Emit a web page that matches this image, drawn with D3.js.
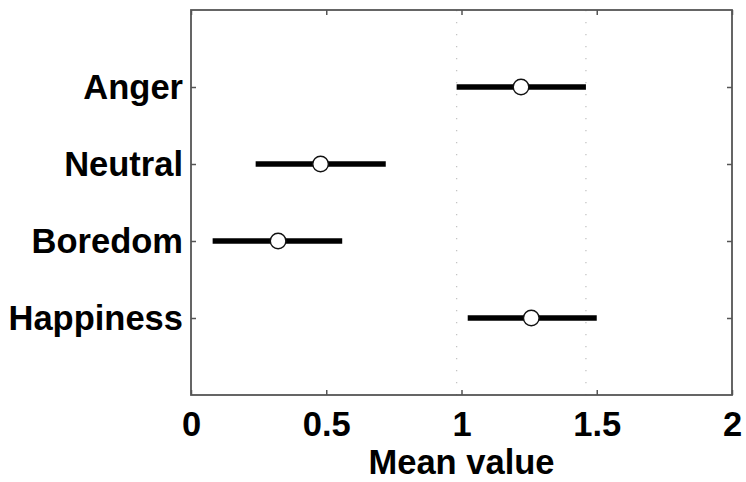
<!DOCTYPE html>
<html>
<head>
<meta charset="utf-8">
<script src="https://cdn.jsdelivr.net/npm/d3@7"></script>
<style>
  html, body { margin: 0; padding: 0; background: #fff; }
  svg { display: block; }
  text { font-family: "Liberation Sans", Arial, Helvetica, sans-serif; font-weight: bold; fill: #000; }
</style>
</head>
<body>
<svg id="chart" width="746" height="482"></svg>
<script>
// ---- data ----
const groups = ["Anger", "Neutral", "Boredom", "Happiness"];
const means  = [1.220, 0.479, 0.322, 1.258];
const lower  = [0.982, 0.239, 0.080, 1.023];
const upper  = [1.460, 0.720, 0.559, 1.500];
const xTicks = [0, 0.5, 1, 1.5, 2];
const xTickLabels = ["0", "0.5", "1", "1.5", "2"];
const selectedGroup = 0; // reference interval lines drawn at this group's bounds
const xLabel = "Mean value";

// ---- layout ----
const W = 746, H = 482;
const margin = { left: 191, right: 14, top: 10, bottom: 87 };
const iw = W - margin.left - margin.right;
const ih = H - margin.top - margin.bottom;
const frameColor = "#555";

const svg = d3.select("#chart");
const g = svg.append("g").attr("transform", `translate(${margin.left},${margin.top})`);

const x = d3.scaleLinear().domain([0, 2]).range([0, iw]);
const y = d3.scaleLinear().domain([0, groups.length + 1]).range([0, ih]);
const yPos = i => y(i + 1);

// dotted reference lines
g.selectAll("line.ref")
  .data([lower[selectedGroup], upper[selectedGroup]])
  .enter().append("line")
  .attr("class", "ref")
  .attr("x1", d => x(d)).attr("x2", d => x(d))
  .attr("y1", 0).attr("y2", ih)
  .attr("stroke", "#c4c4c4")
  .attr("stroke-width", 1.3)
  .attr("stroke-dasharray", "1.3 10.7");

// interval bars
const rows = groups.map((name, i) => ({ name, i, m: means[i], lo: lower[i], hi: upper[i] }));
g.selectAll("line.bar")
  .data(rows).enter().append("line")
  .attr("class", "bar")
  .attr("x1", d => x(d.lo)).attr("x2", d => x(d.hi))
  .attr("y1", d => yPos(d.i)).attr("y2", d => yPos(d.i))
  .attr("stroke", "#000")
  .attr("stroke-width", 5.5);

// mean markers
g.selectAll("circle.mean")
  .data(rows).enter().append("circle")
  .attr("class", "mean")
  .attr("cx", d => x(d.m)).attr("cy", d => yPos(d.i))
  .attr("r", 7.8)
  .attr("fill", "#fff")
  .attr("stroke", "#111")
  .attr("stroke-width", 1.4);

// axes
const fs = 34.5;
const xAxis = d3.axisBottom(x).tickValues(xTicks).tickFormat((d, i) => xTickLabels[i])
  .tickSizeInner(-5).tickSizeOuter(0).tickPadding(16.5);
const xg = g.append("g").attr("transform", `translate(0,${ih})`).call(xAxis);
xg.select(".domain").remove();
xg.selectAll("line").attr("stroke", frameColor).attr("stroke-width", 1.5);
xg.selectAll("text").style("font-size", fs + "px").style("font-family", '"Liberation Sans", Arial, sans-serif').style("font-weight", "bold").attr("fill", "#000");

const xTop = d3.axisTop(x).tickValues(xTicks).tickFormat("").tickSizeInner(-5).tickSizeOuter(0);
const xtg = g.append("g").call(xTop);
xtg.select(".domain").remove();
xtg.selectAll("line").attr("stroke", frameColor).attr("stroke-width", 1.5);

const yAxis = d3.axisLeft(y).tickValues(groups.map((_, i) => i + 1)).tickFormat(d => groups[d - 1])
  .tickSizeInner(-5).tickSizeOuter(0).tickPadding(8);
const yg = g.append("g").call(yAxis);
yg.select(".domain").remove();
yg.selectAll("line").attr("stroke", frameColor).attr("stroke-width", 1.5);
yg.selectAll("text").style("font-size", fs + "px").style("font-family", '"Liberation Sans", Arial, sans-serif').style("font-weight", "bold").attr("fill", "#000");

const yRight = d3.axisRight(y).tickValues(groups.map((_, i) => i + 1)).tickFormat("").tickSizeInner(-5).tickSizeOuter(0);
const yrg = g.append("g").attr("transform", `translate(${iw},0)`).call(yRight);
yrg.select(".domain").remove();
yrg.selectAll("line").attr("stroke", frameColor).attr("stroke-width", 1.5);

// frame
g.append("rect")
  .attr("x", 0).attr("y", 0).attr("width", iw).attr("height", ih)
  .attr("fill", "none").attr("stroke", frameColor).attr("stroke-width", 1.8);

// x label
g.append("text")
  .attr("x", iw / 2).attr("y", ih + 79)
  .attr("text-anchor", "middle")
  .style("font-size", fs + "px")
  .text(xLabel);
</script>
</body>
</html>
